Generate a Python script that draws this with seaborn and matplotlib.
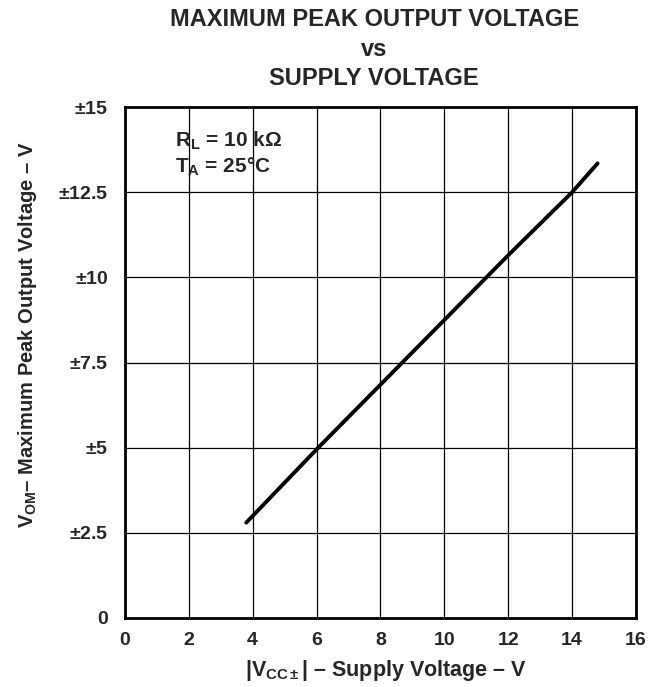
import pandas as pd
import matplotlib
matplotlib.use('Agg')
import matplotlib.pyplot as plt
import seaborn as sns

# Curve
supply_v = [3.8, 6.0, 8.0, 10.0, 12.0, 14.0, 14.8]
peak_out_v = [2.8, 4.95, 6.85, 8.75, 10.65, 12.5, 13.35]

x_ticks = [0, 2, 4, 6, 8, 10, 12, 14, 16]
y_ticks = [0, 2.5, 5, 7.5, 10, 12.5, 15]
y_tick_labels = ['0', r'$\pm$2.5', r'$\pm$5', r'$\pm$7.5', r'$\pm$10', r'$\pm$12.5', r'$\pm$15']

df = pd.DataFrame({'Supply': supply_v, 'Vom': peak_out_v})

sns.set_style("white")
plt.rcParams['font.family'] = ['Liberation Sans', 'DejaVu Sans']
plt.rcParams['font.weight'] = 'bold'
# letters in math go bold, symbols like ± stay regular (as in the datasheet)
plt.rcParams['mathtext.fontset'] = 'custom'
plt.rcParams['mathtext.rm'] = 'Liberation Sans'
plt.rcParams['mathtext.it'] = 'Liberation Sans:bold'
plt.rcParams['mathtext.bf'] = 'Liberation Sans:bold'

fig = plt.figure(figsize=(6.68, 6.87), dpi=100)
ax = fig.add_axes([0.187, 0.1005, 0.765, 0.7435])

sns.lineplot(data=df, x='Supply', y='Vom', color='black', linewidth=2.8, ax=ax)

ax.set_xlim(0, 16)
ax.set_ylim(0, 15)
ax.set_xticks(x_ticks)
ax.set_xticklabels([str(t) for t in x_ticks], fontsize=14, fontweight='bold')
ax.set_yticks(y_ticks)
ax.set_yticklabels(y_tick_labels, fontsize=14, fontweight='bold')
ax.tick_params(axis='both', length=0)
ax.tick_params(axis='x', pad=10)
ax.tick_params(axis='y', pad=12)

ax.grid(True, color='black', linewidth=0.9)
for s in ax.spines.values():
    s.set_color('black')
    s.set_linewidth(2)

ax.set_xlabel(r'|V$_{CC\pm}$| – Supply Voltage – V', fontsize=15.5, fontweight='bold')
ax.xaxis.set_label_coords(0.51, -0.078)
ax.set_ylabel(r'V$_{OM}$– Maximum Peak Output Voltage – V', fontsize=14.5, fontweight='bold')
ax.yaxis.set_label_coords(-0.168, 0.554)

ax.text(1.57, 13.85, r'R$_{L}$ = 10 kΩ', fontsize=15, fontweight='bold', va='baseline')
ax.text(1.57, 13.09, r'T$_{A}$ = 25°C', fontsize=15, fontweight='bold', va='baseline')

title_lines = ['MAXIMUM PEAK OUTPUT VOLTAGE', 'vs', 'SUPPLY VOLTAGE']
title_base_px = [26, 55.5, 85]
for line, yb in zip(title_lines, title_base_px):
    fig.text(0.56, 1 - yb / 687, line, ha='center', va='baseline',
             fontsize=17, fontweight='bold')

fig.savefig('out.png', dpi=100)
